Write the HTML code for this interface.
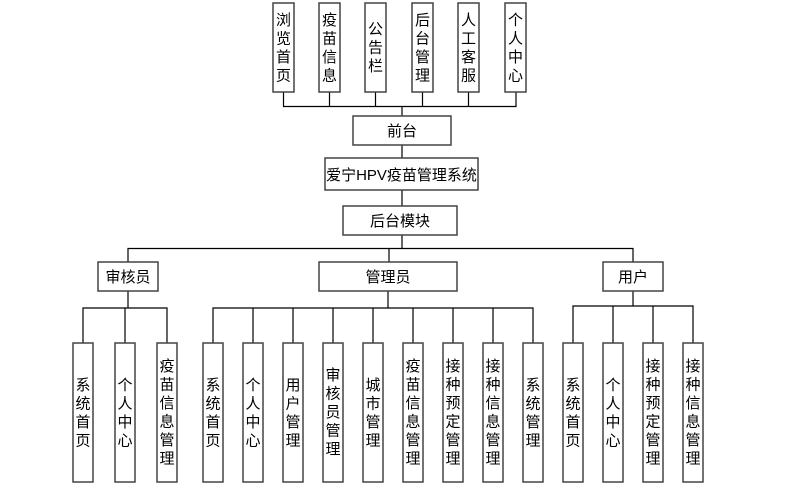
<!DOCTYPE html>
<html><head><meta charset="utf-8"><style>
html,body{margin:0;padding:0;background:#fff;}
svg{display:block;}
text{font-family:"Liberation Sans","Noto Sans CJK SC","WenQuanYi Zen Hei",sans-serif;font-size:15px;fill:#000;text-anchor:middle;}
.b{fill:#fff;stroke:#444;stroke-width:1.5;}
.l{stroke:#000;stroke-width:1.2;fill:none;}
.s{stroke:#888;stroke-width:1.2;fill:none;}
</style></head><body>
<svg width="812" height="497" viewBox="0 0 812 497" xmlns="http://www.w3.org/2000/svg">
<!-- top connectors -->
<path class="l" d="M283.5 92V106.5H516V92M329.5 92V106.5M375.5 92V106.5M422.5 92V106.5M468.5 92V106.5M402 106.5V116M402 145V158M402 190V206M402 235V248.5"/>
<path class="l" d="M128 262V248.5H633V262M389 248.5V262"/>
<!-- group lines -->
<path class="l" d="M128 291V308M83 343V308H167V343M125 308V343"/>
<path class="l" d="M388 291V308M213 343V308H533V343M253 308V343M293 308V343M333 308V343M373 308V343M413 308V343M453 308V343M493 308V343"/>
<path class="l" d="M633 291V306M573 343V306H693V343M613 306V343M653 306V343"/>
<!-- top boxes -->
<g>
<rect class="b" x="273" y="3" width="21" height="89"/>
<text x="283.5" y="25"><tspan x="283.5">浏</tspan><tspan x="283.5" dy="18.5">览</tspan><tspan x="283.5" dy="18.5">首</tspan><tspan x="283.5" dy="18.5">页</tspan></text>
<rect class="b" x="319" y="3" width="21" height="89"/>
<text x="329.5" y="25"><tspan x="329.5">疫</tspan><tspan x="329.5" dy="18.5">苗</tspan><tspan x="329.5" dy="18.5">信</tspan><tspan x="329.5" dy="18.5">息</tspan></text>
<rect class="b" x="365" y="3" width="21" height="89"/>
<text x="375.5" y="34"><tspan x="375.5">公</tspan><tspan x="375.5" dy="18.5">告</tspan><tspan x="375.5" dy="18.5">栏</tspan></text>
<rect class="b" x="412" y="3" width="21" height="89"/>
<text x="422.5" y="25"><tspan x="422.5">后</tspan><tspan x="422.5" dy="18.5">台</tspan><tspan x="422.5" dy="18.5">管</tspan><tspan x="422.5" dy="18.5">理</tspan></text>
<rect class="b" x="458" y="3" width="21" height="89"/>
<text x="468.5" y="25"><tspan x="468.5">人</tspan><tspan x="468.5" dy="18.5">工</tspan><tspan x="468.5" dy="18.5">客</tspan><tspan x="468.5" dy="18.5">服</tspan></text>
<rect class="b" x="505" y="3" width="21" height="89"/>
<text x="515.5" y="25"><tspan x="515.5">个</tspan><tspan x="515.5" dy="18.5">人</tspan><tspan x="515.5" dy="18.5">中</tspan><tspan x="515.5" dy="18.5">心</tspan></text>
</g>
<!-- middle boxes -->
<rect class="b" x="353" y="116" width="98" height="29"/><text x="402" y="136">前台</text>
<rect class="b" x="325" y="158" width="153" height="32"/><text x="401.5" y="180">爱宁HPV疫苗管理系统</text>
<rect class="b" x="343" y="206" width="114" height="29"/><text x="400" y="226">后台模块</text>
<rect class="b" x="98" y="262" width="60" height="29"/><text x="128" y="282">审核员</text>
<rect class="b" x="319" y="262" width="138" height="29"/><text x="388" y="282">管理员</text>
<rect class="b" x="603" y="262" width="60" height="29"/><text x="633" y="282">用户</text>
<!-- bottom boxes -->
<g>
<rect class="b" x="73" y="343" width="20" height="139"/>
<text y="390"><tspan x="83">系</tspan><tspan x="83" dy="18.5">统</tspan><tspan x="83" dy="18.5">首</tspan><tspan x="83" dy="18.5">页</tspan></text>
<rect class="b" x="115" y="343" width="20" height="139"/>
<text y="390"><tspan x="125">个</tspan><tspan x="125" dy="18.5">人</tspan><tspan x="125" dy="18.5">中</tspan><tspan x="125" dy="18.5">心</tspan></text>
<rect class="b" x="157" y="343" width="20" height="139"/>
<text y="371"><tspan x="167">疫</tspan><tspan x="167" dy="18.5">苗</tspan><tspan x="167" dy="18.5">信</tspan><tspan x="167" dy="18.5">息</tspan><tspan x="167" dy="18.5">管</tspan><tspan x="167" dy="18.5">理</tspan></text>

<rect class="b" x="203" y="343" width="20" height="139"/>
<text y="390"><tspan x="213">系</tspan><tspan x="213" dy="18.5">统</tspan><tspan x="213" dy="18.5">首</tspan><tspan x="213" dy="18.5">页</tspan></text>
<rect class="b" x="243" y="343" width="20" height="139"/>
<text y="390"><tspan x="253">个</tspan><tspan x="253" dy="18.5">人</tspan><tspan x="253" dy="18.5">中</tspan><tspan x="253" dy="18.5">心</tspan></text>
<rect class="b" x="283" y="343" width="20" height="139"/>
<text y="390"><tspan x="293">用</tspan><tspan x="293" dy="18.5">户</tspan><tspan x="293" dy="18.5">管</tspan><tspan x="293" dy="18.5">理</tspan></text>
<rect class="b" x="323" y="343" width="20" height="139"/>
<text y="380"><tspan x="333">审</tspan><tspan x="333" dy="18.5">核</tspan><tspan x="333" dy="18.5">员</tspan><tspan x="333" dy="18.5">管</tspan><tspan x="333" dy="18.5">理</tspan></text>
<rect class="b" x="363" y="343" width="20" height="139"/>
<text y="390"><tspan x="373">城</tspan><tspan x="373" dy="18.5">市</tspan><tspan x="373" dy="18.5">管</tspan><tspan x="373" dy="18.5">理</tspan></text>
<rect class="b" x="403" y="343" width="20" height="139"/>
<text y="371"><tspan x="413">疫</tspan><tspan x="413" dy="18.5">苗</tspan><tspan x="413" dy="18.5">信</tspan><tspan x="413" dy="18.5">息</tspan><tspan x="413" dy="18.5">管</tspan><tspan x="413" dy="18.5">理</tspan></text>
<rect class="b" x="443" y="343" width="20" height="139"/>
<text y="371"><tspan x="453">接</tspan><tspan x="453" dy="18.5">种</tspan><tspan x="453" dy="18.5">预</tspan><tspan x="453" dy="18.5">定</tspan><tspan x="453" dy="18.5">管</tspan><tspan x="453" dy="18.5">理</tspan></text>
<rect class="b" x="483" y="343" width="20" height="139"/>
<text y="371"><tspan x="493">接</tspan><tspan x="493" dy="18.5">种</tspan><tspan x="493" dy="18.5">信</tspan><tspan x="493" dy="18.5">息</tspan><tspan x="493" dy="18.5">管</tspan><tspan x="493" dy="18.5">理</tspan></text>
<rect class="b" x="523" y="343" width="20" height="139"/>
<text y="390"><tspan x="533">系</tspan><tspan x="533" dy="18.5">统</tspan><tspan x="533" dy="18.5">管</tspan><tspan x="533" dy="18.5">理</tspan></text>

<rect class="b" x="563" y="343" width="20" height="139"/>
<text y="390"><tspan x="573">系</tspan><tspan x="573" dy="18.5">统</tspan><tspan x="573" dy="18.5">首</tspan><tspan x="573" dy="18.5">页</tspan></text>
<rect class="b" x="603" y="343" width="20" height="139"/>
<text y="390"><tspan x="613">个</tspan><tspan x="613" dy="18.5">人</tspan><tspan x="613" dy="18.5">中</tspan><tspan x="613" dy="18.5">心</tspan></text>
<rect class="b" x="643" y="343" width="20" height="139"/>
<text y="371"><tspan x="653">接</tspan><tspan x="653" dy="18.5">种</tspan><tspan x="653" dy="18.5">预</tspan><tspan x="653" dy="18.5">定</tspan><tspan x="653" dy="18.5">管</tspan><tspan x="653" dy="18.5">理</tspan></text>
<rect class="b" x="683" y="343" width="20" height="139"/>
<text y="371"><tspan x="693">接</tspan><tspan x="693" dy="18.5">种</tspan><tspan x="693" dy="18.5">信</tspan><tspan x="693" dy="18.5">息</tspan><tspan x="693" dy="18.5">管</tspan><tspan x="693" dy="18.5">理</tspan></text>
</g>
</svg>
</body></html>
